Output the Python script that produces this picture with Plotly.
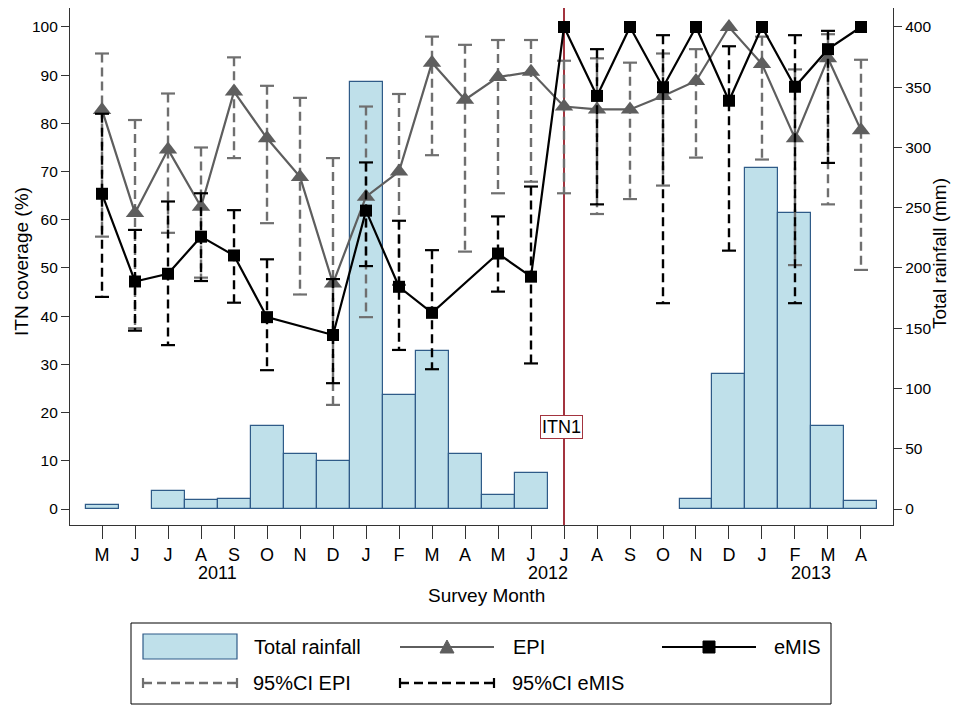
import plotly.graph_objects as go

# ---------------- data ----------------
month_labels = ["M", "J", "J", "A", "S", "O", "N", "D", "J", "F", "M", "A",
                "M", "J", "J", "A", "S", "O", "N", "D", "J", "F", "M", "A"]
year_labels = ["2011", "2012", "2013"]
year_pos = [3.5, 13.5, 21.5]

rainfall_mm = [3, None, 15, 7.5, 8, 69, 45.5, 40, 354, 95, 131, 46,
               12, 30, None, None, None, None, 8, 112, 283, 246, 69, 6.4]

epi = [82.8, 61.4, 74.6, 62.7, 86.6, 76.9, 68.9, 46.8, 64.8, 70.0, 92.6, 84.9,
       89.6, 90.7, 83.5, 82.9, 82.9, 85.7, 88.8, 100, 92.3, 76.9, 93.5, 78.6]
epi_lo = [56.5, 37.5, 57.3, 48.0, 72.8, 59.3, 44.5, 21.6, 39.8, 46.5, 73.4, 53.4,
          65.5, 67.9, 65.5, 61.2, 64.3, 67.1, 72.9, None, 72.5, 50.6, 63.2, 49.6]
epi_hi = [94.5, 80.7, 86.2, 75.0, 93.7, 87.8, 85.3, 72.8, 83.5, 86.1, 98.0, 96.3,
          97.3, 97.3, 93.0, 93.5, 92.6, 94.5, 95.4, None, 98.0, 91.2, 98.5, 93.2]

emis = [65.4, 47.2, 48.8, 56.5, 52.6, 39.8, None, 36.1, 61.9, 46.1, 40.7, None,
        53.0, 48.2, 100, 85.7, 100, 87.5, 100, 84.7, 100, 87.6, 95.4, 100]
emis_lo = [44.0, 37.0, 34.0, 47.3, 42.8, 28.8, None, 26.1, 50.4, 33.0, 29.0, None,
           45.1, 30.2, None, 63.2, None, 42.7, None, 53.6, None, 42.7, 71.8, None]
emis_hi = [82.0, 57.9, 63.8, 65.5, 62.0, 51.8, None, 47.7, 71.9, 59.8, 53.7, None,
           60.7, 66.9, None, 95.4, None, 98.3, None, 96.0, None, 98.3, 99.2, None]

itn_event_index = 14
itn_label = "ITN1"

# ---------------- styling ----------------
FONT = "Liberation Sans, Arial, sans-serif"
BAR_FILL = "#bfe0ea"
BAR_LINE = "#2f5b88"
EPI_COL = "#5e5e5e"
EPI_CI_COL = "#6f6f6f"
EMIS_COL = "#000000"
ITN_COL = "#a3343f"

W, H = 953, 706
ML, MR, MT, MB = 70, 60, 8, 181
PW, PH = W - ML - MR, H - MT - MB


def px(x):
    return (x - ML) / PW


def py(y):
    return (H - MB - y) / PH


xs = list(range(len(month_labels)))


def ci_segments(lo, hi):
    sx, sy = [], []
    for i, (a, b) in enumerate(zip(lo, hi)):
        if a is None or b is None:
            continue
        sx += [i, i, None]
        sy += [b, a, None]
    return sx, sy


def ci_caps(lo, hi):
    cx, cy = [], []
    for i, (a, b) in enumerate(zip(lo, hi)):
        if a is None or b is None:
            continue
        cx += [i, i]
        cy += [a, b]
    return cx, cy


fig = go.Figure()

# rainfall bars (primary y, displayed on right)
fig.add_trace(go.Bar(
    x=xs, y=rainfall_mm, name="Total rainfall", yaxis="y",
    marker=dict(color=BAR_FILL, line=dict(color=BAR_LINE, width=1.2)),
    width=1.0, showlegend=False,
))

# EPI CI
sx, sy = ci_segments(epi_lo, epi_hi)
fig.add_trace(go.Scatter(x=sx, y=sy, yaxis="y2", mode="lines",
                         line=dict(color=EPI_CI_COL, width=2.4, dash="9px,5px"),
                         showlegend=False, hoverinfo="skip"))
cx, cy = ci_caps(epi_lo, epi_hi)
fig.add_trace(go.Scatter(x=cx, y=cy, yaxis="y2", mode="markers",
                         marker=dict(symbol="line-ew", size=10,
                                     line=dict(color=EPI_CI_COL, width=2.2)),
                         showlegend=False, hoverinfo="skip"))

# EPI line
fig.add_trace(go.Scatter(x=xs, y=epi, yaxis="y2", mode="lines+markers", name="EPI",
                         line=dict(color=EPI_COL, width=2.2),
                         marker=dict(symbol="triangle-up", size=16, color=EPI_COL),
                         showlegend=False))

# eMIS CI
sx, sy = ci_segments(emis_lo, emis_hi)
fig.add_trace(go.Scatter(x=sx, y=sy, yaxis="y2", mode="lines",
                         line=dict(color=EMIS_COL, width=2.4, dash="9px,5px"),
                         showlegend=False, hoverinfo="skip"))
cx, cy = ci_caps(emis_lo, emis_hi)
fig.add_trace(go.Scatter(x=cx, y=cy, yaxis="y2", mode="markers",
                         marker=dict(symbol="line-ew", size=10,
                                     line=dict(color=EMIS_COL, width=2.2)),
                         showlegend=False, hoverinfo="skip"))

# eMIS line
fig.add_trace(go.Scatter(x=xs, y=emis, yaxis="y2", mode="lines+markers", name="eMIS",
                         connectgaps=True,
                         line=dict(color=EMIS_COL, width=2.2),
                         marker=dict(symbol="square", size=12, color=EMIS_COL),
                         showlegend=False))

shapes = []
# ITN event line
shapes.append(dict(type="line", xref="x", yref="paper", x0=itn_event_index,
                   x1=itn_event_index, y0=0, y1=1, layer="below",
                   line=dict(color=ITN_COL, width=2)))

# ---- custom legend ----
shapes.append(dict(type="rect", xref="paper", yref="paper",
                   x0=px(131), x1=px(831), y0=py(623), y1=py(704),
                   line=dict(color="#000000", width=1), fillcolor="white"))
shapes.append(dict(type="rect", xref="paper", yref="paper",
                   x0=px(143), x1=px(237), y0=py(634), y1=py(659),
                   line=dict(color=BAR_LINE, width=1.2), fillcolor=BAR_FILL))
shapes.append(dict(type="line", xref="paper", yref="paper",
                   x0=px(400), x1=px(494), y0=py(647), y1=py(647),
                   line=dict(color=EPI_COL, width=2.2)))
shapes.append(dict(type="path", xref="paper", yref="paper",
                   path="M {:.5f},{:.5f} L {:.5f},{:.5f} L {:.5f},{:.5f} Z".format(
                       px(440), py(653), px(454), py(653), px(447), py(640)),
                   fillcolor=EPI_COL, line=dict(color=EPI_COL, width=1)))
shapes.append(dict(type="line", xref="paper", yref="paper",
                   x0=px(662), x1=px(756), y0=py(647), y1=py(647),
                   line=dict(color=EMIS_COL, width=2.2)))
shapes.append(dict(type="rect", xref="paper", yref="paper",
                   x0=px(703), x1=px(715), y0=py(641), y1=py(653),
                   fillcolor=EMIS_COL, line=dict(color=EMIS_COL, width=1)))
for (x0, x1, col) in [(143, 237, EPI_CI_COL), (400, 494, EMIS_COL)]:
    shapes.append(dict(type="line", xref="paper", yref="paper",
                       x0=px(x0), x1=px(x1), y0=py(683), y1=py(683),
                       line=dict(color=col, width=2.4, dash="9px,5px")))
    for xc in (x0, x1):
        shapes.append(dict(type="line", xref="paper", yref="paper",
                           x0=px(xc), x1=px(xc), y0=py(678), y1=py(688),
                           line=dict(color=col, width=2.2)))

annotations = []
for text, x in [("Total rainfall", 252), ("EPI", 511), ("eMIS", 772)]:
    annotations.append(dict(text=text, xref="paper", yref="paper", x=px(x), y=py(647),
                            xanchor="left", yanchor="middle", showarrow=False,
                            font=dict(size=20, color="#000", family=FONT)))
for text, x in [("95%CI EPI", 251), ("95%CI eMIS", 510)]:
    annotations.append(dict(text=text, xref="paper", yref="paper", x=px(x), y=py(683),
                            xanchor="left", yanchor="middle", showarrow=False,
                            font=dict(size=20, color="#000", family=FONT)))

# years
for yl, xp in zip(year_labels, year_pos):
    annotations.append(dict(text=yl, xref="x", yref="paper", x=xp, y=py(573),
                            xanchor="center", yanchor="middle", showarrow=False,
                            font=dict(size=18, color="#000", family=FONT)))
# axis titles
annotations.append(dict(text="Survey Month", xref="paper", yref="paper", x=px(486),
                        y=py(595), xanchor="center", yanchor="middle", showarrow=False,
                        font=dict(size=19, color="#000", family=FONT)))
annotations.append(dict(text="ITN coverage (%)", xref="paper", yref="paper", x=px(21),
                        y=py(262), xanchor="center", yanchor="middle", showarrow=False,
                        textangle=-90, font=dict(size=19, color="#000", family=FONT)))
annotations.append(dict(text="Total rainfall (mm)", xref="paper", yref="paper", x=px(940),
                        y=py(254), xanchor="center", yanchor="middle", showarrow=False,
                        textangle=-90, font=dict(size=19, color="#000", family=FONT)))
# ITN1 label
annotations.append(dict(text=itn_label, xref="x", yref="y2", x=itn_event_index - 0.08, y=17,
                        xanchor="center", yanchor="middle", showarrow=False,
                        bgcolor="white", bordercolor=ITN_COL, borderwidth=1, borderpad=1,
                        font=dict(size=18, color="#000", family=FONT)))

pct_lo, pct_hi = -3.32, 103.94
fig.update_layout(
    width=W, height=H,
    margin=dict(l=ML, r=MR, t=MT, b=MB, pad=0),
    paper_bgcolor="white", plot_bgcolor="white",
    font=dict(family=FONT, color="#000"),
    bargap=0,
    showlegend=False,
    xaxis=dict(range=[-0.97, 23.97], tickmode="array", tickvals=xs, ticktext=month_labels,
               showgrid=False, zeroline=False, showline=True, linecolor="#333", linewidth=1.2,
               ticks="outside", ticklen=13, tickwidth=1.2, tickcolor="#333",
               tickfont=dict(size=18, family=FONT, color="#000")),
    yaxis=dict(side="right", range=[pct_lo * 4, pct_hi * 4], tickmode="array",
               tickvals=list(range(0, 401, 50)), showgrid=False, zeroline=False,
               showline=True, linecolor="#333", linewidth=1.2, ticks="outside", ticklen=8,
               tickwidth=1.2, tickcolor="#333",
               tickfont=dict(size=15.5, family=FONT, color="#000")),
    yaxis2=dict(side="left", overlaying="y", range=[pct_lo, pct_hi], tickmode="array",
                tickvals=list(range(0, 101, 10)), showgrid=False, zeroline=False,
                showline=True, linecolor="#333", linewidth=1.2, ticks="outside", ticklen=8,
                tickwidth=1.2, tickcolor="#333",
                tickfont=dict(size=15.5, family=FONT, color="#000")),
    shapes=shapes,
    annotations=annotations,
)

fig.write_html("out.html", config={"displayModeBar": False},
               post_script="document.body.style.margin='0px';document.body.style.overflow='hidden';")
